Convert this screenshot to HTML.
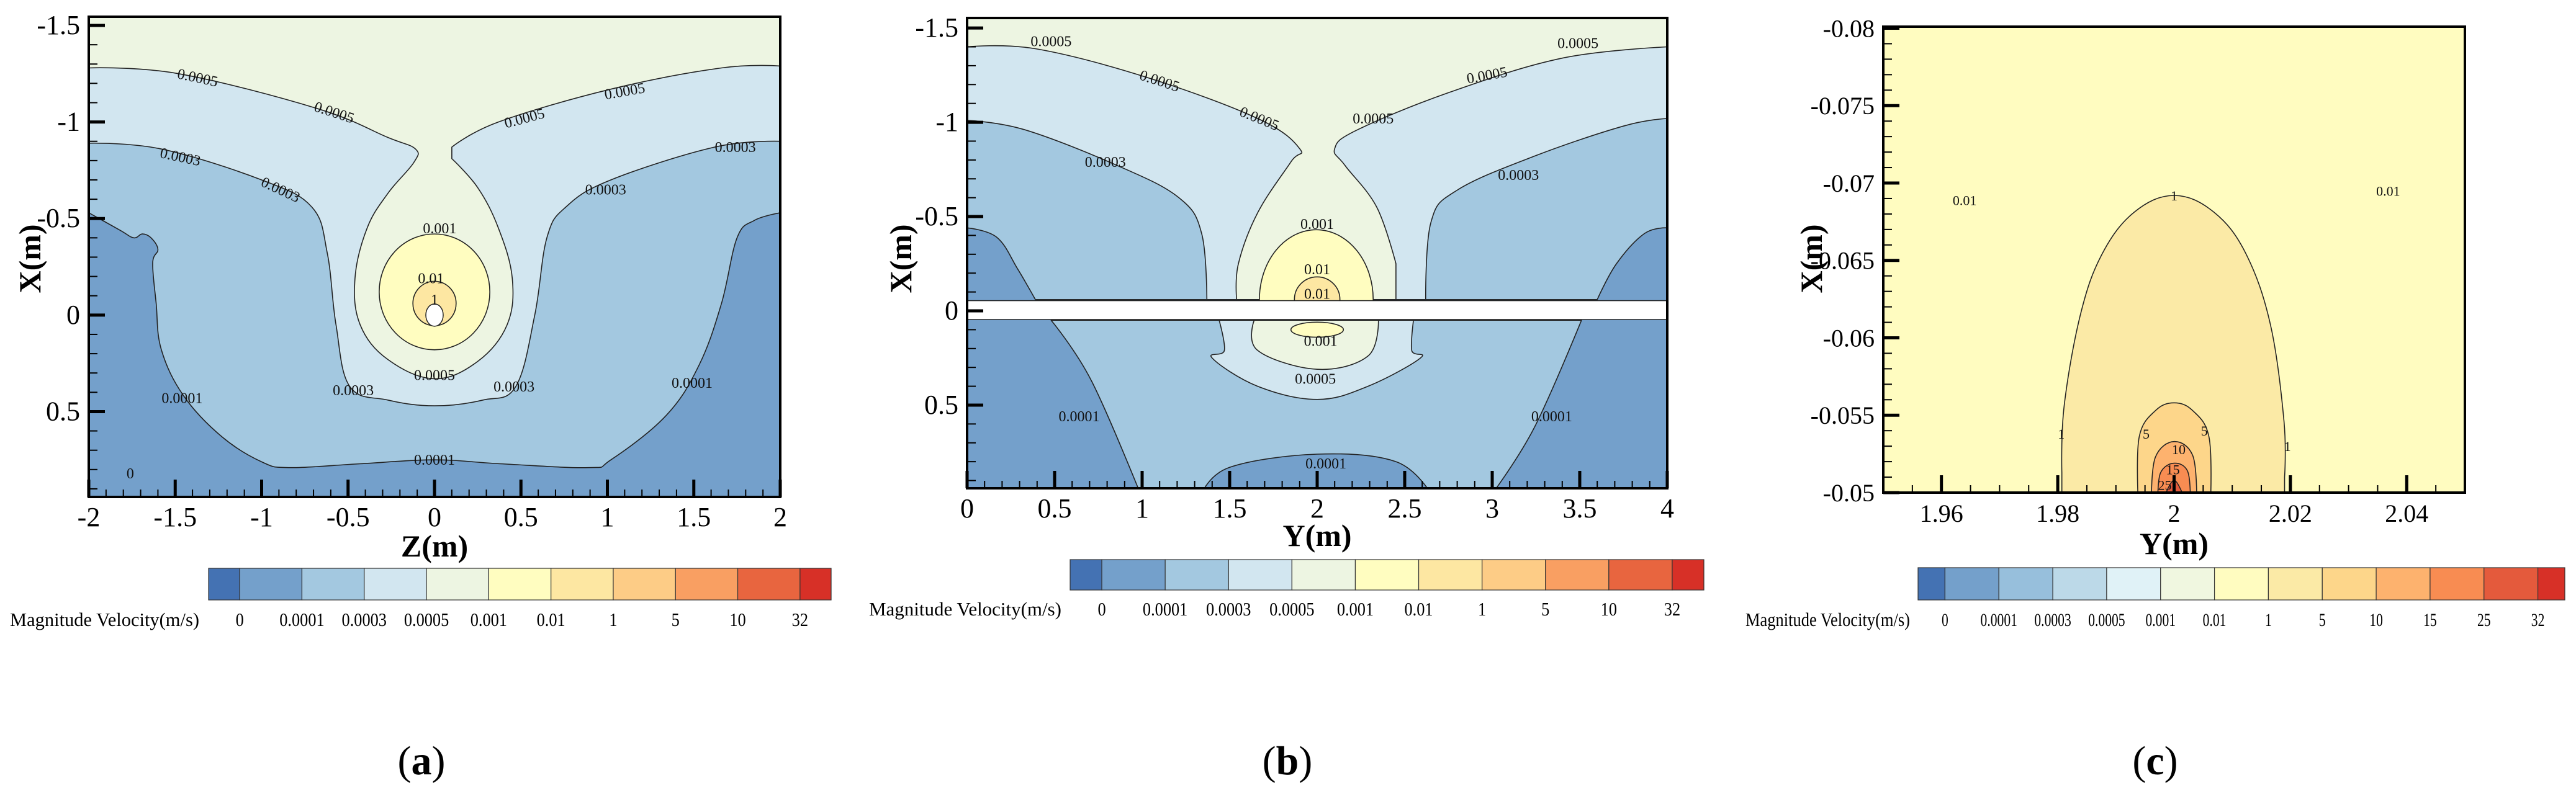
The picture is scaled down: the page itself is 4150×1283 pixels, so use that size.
<!DOCTYPE html>
<html><head><meta charset="utf-8">
<style>
html,body{margin:0;padding:0;background:#fff;}
svg{display:block;font-family:"Liberation Serif",serif;}
</style></head>
<body>
<svg id="fig" xmlns="http://www.w3.org/2000/svg" width="4150" height="1283" viewBox="0 0 4150 1283">
<rect x="0" y="0" width="4150" height="1283" fill="#fff"/>
</svg>
<script>
// ---------- colorbar data ----------
const cbLabelsAB = ["0","0.0001","0.0003","0.0005","0.001","0.01","1","5","10","32"];
const cbColorsAB = ["#4472b3","#74a0cb","#a3c8e0","#d2e6f0","#edf5e2","#fffdc0","#fde7a2","#fdcc86","#f99f62","#e8653f","#d73027"];
const cbLabelsC = ["0","0.0001","0.0003","0.0005","0.001","0.01","1","5","10","15","25","32"];
const cbColorsC = ["#4472b3","#74a0cb","#97bfdc","#bcd9e8","#e0f2f7","#f0f7e0","#fffcc0","#fbeaa6","#fdd68a","#fdb26e","#f88c52","#e45a3c","#d73027"];

// ---------- panel (a) contour data (Z, X in metres) ----------
const aL1 = [[-2,-1.55],[-2,-0.53],[-1.82,-0.44],[-1.74,-0.40],[-1.69,-0.42],[-1.64,-0.40],[-1.60,-0.34],[-1.63,-0.27],[-1.61,-0.06],[-1.58,0.18],[-1.45,0.42],[-1.23,0.63],[-1.0,0.76],[-0.84,0.79],[-0.43,0.77],[0,0.75],[0.38,0.77],[0.89,0.79],[1.02,0.75],[1.34,0.52],[1.53,0.26],[1.66,-0.06],[1.75,-0.40],[1.85,-0.49],[2,-0.53],[2,-1.55]];
const aL2 = [[-2,-1.55],[-2,-0.89],[-1.58,-0.86],[-1.0,-0.70],[-0.71,-0.56],[-0.62,-0.32],[-0.57,0.05],[-0.49,0.37],[-0.27,0.44],[0,0.47],[0.28,0.44],[0.47,0.37],[0.58,0.0],[0.65,-0.40],[0.76,-0.56],[1.02,-0.70],[1.62,-0.87],[2,-0.90],[2,-1.55]];
const aL3 = [[-2,-1.55],[-2,-1.28],[-1.48,-1.25],[-0.68,-1.07],[-0.27,-0.92],[-0.11,-0.86],[-0.12,-0.79],[-0.27,-0.63],[-0.39,-0.45],[-0.46,-0.19],[-0.43,0.05],[-0.27,0.23],[0,0.33],[0.25,0.24],[0.42,0.05],[0.45,-0.19],[0.37,-0.45],[0.25,-0.66],[0.10,-0.81],[0.10,-0.87],[0.37,-1.00],[1.02,-1.17],[1.66,-1.28],[2,-1.29],[2,-1.55]];
const aEll = [[0,-0.12,0.32,0.30],[0,-0.06,0.125,0.115]];
const aLabelText = ["0.0005","0.0005","0.0005","0.0005","0.0003","0.0003","0.0003","0.0003","0.001","0.01","1","0.0005","0.0003","0.0003","0.0001","0.0001","0.0001","0"];
const aLabelPos = [[-1.37,-1.23],[-0.58,-1.05],[0.52,-1.02],[1.1,-1.16],[-1.47,-0.82],[-0.89,-0.65],[0.99,-0.65],[1.74,-0.87],[0.03,-0.45],[-0.02,-0.19],[0,-0.08],[0,0.31],[-0.47,0.39],[0.46,0.37],[-1.46,0.43],[1.49,0.35],[0,0.75],[-1.76,0.82]];
const aLabelRot = [12,18,-15,-10,12,25,0,0,0,0,0,0,0,0,0,0,0,0];

// ---------- panel (b) contour data (Y, X) ----------
const bU1 = [[0,-1.57],[0,-0.44],[0.17,-0.39],[0.29,-0.22],[0.39,-0.06],[3.6,-0.06],[3.71,-0.25],[3.87,-0.41],[4,-0.44],[4,-1.57]];
const bU2 = [[0,-1.57],[0,-1.01],[0.33,-0.96],[0.86,-0.77],[1.21,-0.60],[1.34,-0.41],[1.37,-0.06],[2.62,-0.06],[2.65,-0.47],[2.80,-0.64],[3.24,-0.82],[3.75,-0.98],[4,-1.02],[4,-1.57]];
const bU3 = [[0,-1.57],[0,-1.40],[0.39,-1.39],[1.02,-1.24],[1.66,-1.02],[1.9,-0.86],[1.85,-0.79],[1.66,-0.52],[1.55,-0.25],[1.54,-0.06],[2.45,-0.06],[2.45,-0.25],[2.34,-0.55],[2.16,-0.77],[2.10,-0.86],[2.23,-0.96],[2.76,-1.16],[3.40,-1.34],[4,-1.40],[4,-1.57]];
const bU4 = [[1.995,-0.06,0.325,0.37]];
const bU5 = [[2.0,-0.06,0.13,0.12]];
const bD1 = [[0.48,0.05],[0.71,0.37],[0.99,0.97],[3.0,0.97],[3.24,0.62],[3.51,0.05]];
const bD0 = [[1.34,0.97],[1.5,0.83],[2.0,0.76],[2.45,0.80],[2.65,0.97]];
const bD2 = [[1.44,0.05],[1.47,0.21],[1.40,0.25],[1.66,0.40],[2.0,0.47],[2.29,0.40],[2.59,0.25],[2.54,0.21],[2.55,0.05]];
const bD3 = [[1.64,0.05],[1.66,0.21],[2.0,0.31],[2.29,0.24],[2.35,0.05]];
const bD4 = [[2.0,0.10,0.15,0.04]];
const bLabelText = ["0.0005","0.0005","0.0005","0.0005","0.0005","0.0005","0.0003","0.0003","0.001","0.01","0.01","0.001","0.0005","0.0001","0.0001","0.0001"];
const bLabelPos = [[0.48,-1.43],[1.1,-1.22],[1.67,-1.02],[2.32,-1.02],[2.97,-1.25],[3.49,-1.42],[0.79,-0.79],[3.15,-0.72],[2.0,-0.46],[2.0,-0.22],[2.0,-0.09],[2.02,0.16],[1.99,0.36],[0.64,0.56],[3.34,0.56],[2.05,0.81]];
const bLabelRot = [0,18,22,0,-10,0,0,0,0,0,0,0,0,0,0,0];

// ---------- panel (c) contour data (Y, X) ----------
const cC1 = [[1.9807,-0.0497],[1.9807,-0.0513],[1.9811,-0.0556],[1.9839,-0.0615],[1.9876,-0.0654],[1.9931,-0.0681],[2.0,-0.0692],[2.0069,-0.0681],[2.0124,-0.0654],[2.0166,-0.0608],[2.0189,-0.0546],[2.019,-0.051],[2.019,-0.0497]];
const cC5 = [[1.9938,-0.0497],[1.994,-0.0536],[1.9968,-0.0553],[2.0,-0.0558],[2.0032,-0.0553],[2.006,-0.0536],[2.0063,-0.0497]];
const cC10 = [[1.9961,-0.0497],[1.9968,-0.0523],[2.0,-0.0533],[2.0032,-0.0524],[2.0039,-0.0497]];
const cC15 = [[1.9972,-0.0497],[1.9977,-0.0513],[2.0,-0.0519],[2.0023,-0.0514],[2.0028,-0.0497]];
const cC25 = [[1.9983,-0.0497],[2.0,-0.0508],[2.0017,-0.0497]];
const cLabelText = ["0.01","0.01","1","1","1","5","5","10","15","25"];
const cLabelPos = [[1.9640,-0.0689],[2.0368,-0.0695],[2.0,-0.0692],[1.9806,-0.0538],[2.0195,-0.0530],[1.9952,-0.0538],[2.0052,-0.0540],[2.0008,-0.0528],[1.9998,-0.0515],[1.9984,-0.0505]];

// ---------- axis tick data ----------
const aXTicks = [-2,-1.5,-1,-0.5,0,0.5,1,1.5,2];
const aYTicks = [-1.5,-1,-0.5,0,0.5];
const bXTicks = [0,0.5,1,1.5,2,2.5,3,3.5,4];
const bYTicks = [-1.5,-1,-0.5,0,0.5];
const cXTicks = [1.96,1.98,2,2.02,2.04];
const cYTicks = [-0.08,-0.075,-0.07,-0.065,-0.06,-0.055,-0.05];

const NS = "http://www.w3.org/2000/svg";
const svg = document.getElementById('fig');
function mk(tag, attrs, parent){
  const e = document.createElementNS(NS, tag);
  for (const k in attrs) e.setAttribute(k, attrs[k]);
  (parent||svg).appendChild(e);
  return e;
}
function makeScale(d0,d1,p0,p1){ return v => p0 + (v-d0)/(d1-d0)*(p1-p0); }
// closed Catmull-Rom smoothing; points adjacent to axis-aligned segments are corners
function smoothPath(P){
  const n = P.length;
  const aligned = (a,b) => Math.abs(a[0]-b[0])<0.5 || Math.abs(a[1]-b[1])<0.5;
  const tan = P.map((p,i)=>{
    const a=P[(i-1+n)%n], b=P[(i+1)%n];
    if (aligned(a,p) || aligned(p,b)) return [0,0];
    return [(b[0]-a[0])*0.18,(b[1]-a[1])*0.18];
  });
  let d = 'M'+P[0][0].toFixed(1)+','+P[0][1].toFixed(1);
  for (let i=0;i<n;i++){
    const j=(i+1)%n, p1=P[i], p2=P[j];
    if (aligned(p1,p2)) { d += ' L'+p2[0].toFixed(1)+','+p2[1].toFixed(1); continue; }
    const c1=[p1[0]+tan[i][0], p1[1]+tan[i][1]];
    const c2=[p2[0]-tan[j][0], p2[1]-tan[j][1]];
    d += ' C'+c1[0].toFixed(1)+','+c1[1].toFixed(1)+' '+c2[0].toFixed(1)+','+c2[1].toFixed(1)+' '+p2[0].toFixed(1)+','+p2[1].toFixed(1);
  }
  return d+'Z';
}

function panel(cfg){
  const g = mk('g', {});
  
  
  const sx = makeScale(cfg.x0,cfg.x1,cfg.L,cfg.R);
  const sy = makeScale(cfg.y0,cfg.y1,cfg.T,cfg.B);
  const clipId = cfg.name+'-clip';
  const cp = mk('clipPath',{id:clipId},g);
  mk('rect',{x:cfg.L,y:cfg.T,width:cfg.R-cfg.L,height:cfg.B-cfg.T},cp);
  const plot = mk('g',{'clip-path':'url(#'+clipId+')'},g);
  
  
  mk('rect',{x:cfg.L,y:cfg.T,width:cfg.R-cfg.L,height:cfg.B-cfg.T,fill:cfg.bg},plot);
  const poly = (pts,fill,name) => {
    const P = pts.map(p=>[sx(p[0]),sy(p[1])]);
    const p = mk('path',{d:smoothPath(P),fill:fill,stroke:'#222','stroke-width':1.6,'stroke-linejoin':'round'},plot);
    
    
  };
  const ell = (e,fill,name) => {
    const p = mk('ellipse',{cx:sx(e[0]),cy:sy(e[1]),rx:Math.abs(sx(e[0]+e[2])-sx(e[0])),ry:Math.abs(sy(e[1]+e[3])-sy(e[1])),fill:fill,stroke:'#222','stroke-width':1.6},plot);
    
    
  };
  cfg.draw(poly,ell,sx,sy,plot);
  cfg.labelText.forEach((t,i)=>{
    const x = sx(cfg.labelPos[i][0]), y = sy(cfg.labelPos[i][1]);
    const r = cfg.labelRot ? cfg.labelRot[i] : 0;
    const tx = mk('text',{x:x,y:y+8,'font-size':cfg.lblSize||24,'text-anchor':'middle',fill:'#111',transform:'rotate('+r+' '+x+' '+y+')'},plot);
    
    
    tx.textContent = t;
  });
  const tk = mk('g',{stroke:'#000','stroke-width':2},g);
  for (let v=cfg.xMinStart; v<=cfg.x1+1e-9; v+=cfg.xMinor){
    const X = sx(v);
    mk('line',{x1:X,y1:cfg.B,x2:X,y2:cfg.B-12},tk);
  }
  for (let v=cfg.yMinStart; v<=cfg.y1+1e-9; v+=cfg.yMinor){
    const Y = sy(v);
    mk('line',{x1:cfg.L,y1:Y,x2:cfg.L+14,y2:Y},tk);
  }
  cfg.xTicks.forEach(v=>{
    const X = sx(v);
    mk('line',{x1:X,y1:cfg.B,x2:X,y2:cfg.B-28,'stroke-width':5},tk);
    const t = mk('text',{x:X,y:cfg.xLabY,'font-size':cfg.tickSize,'text-anchor':'middle',stroke:'none',fill:'#000'},g);
    
    
    t.textContent = String(v);
  });
  cfg.yTicks.forEach(v=>{
    const Y = sy(v);
    mk('line',{x1:cfg.L,y1:Y,x2:cfg.L+26,y2:Y,'stroke-width':5},tk);
    const t = mk('text',{x:cfg.L-14,y:Y+14,'font-size':cfg.tickSize,'text-anchor':'end',stroke:'none',fill:'#000'},g);
    
    
    t.textContent = String(v);
  });
  const fr = mk('rect',{x:cfg.L,y:cfg.T,width:cfg.R-cfg.L,height:cfg.B-cfg.T,fill:'none',stroke:'#000','stroke-width':4},g);
  
  
  const xt = mk('text',{x:(cfg.L+cfg.R)/2,y:cfg.xTitleY,'font-size':50,'font-weight':'bold','text-anchor':'middle'},g);
  
  
  xt.textContent = cfg.xTitle;
  const yt = mk('text',{x:cfg.yTitleX,y:417,'font-size':50,'font-weight':'bold','text-anchor':'middle',transform:'rotate(-90 '+cfg.yTitleX+' 417)',dy:17},g);
  
  
  yt.textContent = 'X(m)';
  const cb = mk('g',{},g);
  
  
  const n = cfg.cbColors.length, step = (cfg.cbR-cfg.cbL)/(n-1);
  let x = cfg.cbL;
  cfg.cbColors.forEach((c,i)=>{
    const w = (i===0||i===n-1) ? step/2 : step;
    const r = mk('rect',{x:x,y:cfg.cbT,width:w,height:cfg.cbH,fill:c,stroke:'#333','stroke-width':1.2},cb);
    
    
    x += w;
  });
  cfg.cbLabels.forEach((l,i)=>{
    const cx = cfg.cbL+step/2+i*step;
    const t = mk('text',{x:cx,y:cfg.cbLabY,'font-size':cfg.cbFont||31,'text-anchor':'middle',transform:'translate('+cx+' 0) scale('+(cfg.cbSx||1)+' 1) translate('+(-cx)+' 0)'},cb);
    
    
    t.textContent = l;
  });
  const ct = mk('text',{x:cfg.cbTitleX,y:cfg.cbLabY,'font-size':31,'text-anchor':'start','lengthAdjust':'spacingAndGlyphs'},cb);
  
  
  ct.setAttribute('textLength', cfg.cbTitleW);
  ct.textContent = 'Magnitude Velocity(m/s)';
  const cap = mk('text',{x:cfg.capX,y:1248,'font-size':66,'text-anchor':'middle'},g);
  
  
  cap.innerHTML = '(<tspan font-weight="bold">'+cfg.cap+'</tspan>)';
}

panel({name:'panel-a',L:143,R:1257,T:27,B:801,x0:-2,x1:2,y0:-1.545,y1:0.942,bg:'#edf5e2',
  xTicks:aXTicks,yTicks:aYTicks,xMinor:0.1,yMinor:0.1,xMinStart:-2,yMinStart:-1.5,tickSize:44,xLabY:848,xTitleY:897,xTitle:'Z(m)',yTitleX:48,
  labelText:aLabelText,labelPos:aLabelPos,labelRot:aLabelRot,
  cbColors:cbColorsAB,cbLabels:cbLabelsAB,cbL:336,cbR:1339,cbT:916,cbH:51,cbLabY:1009,cbTitleX:16,cbTitleW:305,capX:679,cap:'a',cbSx:0.85,
  draw:(poly,ell,sx,sy,plot)=>{
    mk('rect',{x:143,y:27,width:1114,height:774,fill:'#74a0cb'},plot);
    poly(aL1,'#a3c8e0','contour-0.0001');
    poly(aL2,'#d2e6f0','contour-0.0003');
    poly(aL3,'#edf5e2','contour-0.0005');
    ell(aEll[0],'#fffdc0','contour-0.001');
    ell(aEll[1],'#fde7a2','contour-0.01');
    const c = mk('ellipse',{cx:sx(0),cy:sy(0),rx:14,ry:18,fill:'#fff',stroke:'#222','stroke-width':1.5},plot);
    
    
  }});

panel({name:'panel-b',L:1558,R:2686,T:29,B:787,x0:0,x1:4,y0:-1.553,y1:0.941,bg:'#edf5e2',
  xTicks:bXTicks,yTicks:bYTicks,xMinor:0.1,yMinor:0.1,xMinStart:0,yMinStart:-1.5,tickSize:44,xLabY:834,xTitleY:880,xTitle:'Y(m)',yTitleX:1451,
  labelText:bLabelText,labelPos:bLabelPos,labelRot:bLabelRot,
  cbColors:cbColorsAB,cbLabels:cbLabelsAB,cbL:1724,cbR:2745,cbT:902,cbH:49,cbLabY:992,cbTitleX:1400,cbTitleW:310,capX:2074,cap:'b',cbSx:0.85,
  draw:(poly,ell,sx,sy,plot)=>{
    mk('rect',{x:1558,y:29,width:1128,height:758,fill:'#74a0cb'},plot);
    poly(bU1,'#a3c8e0','contour-0.0001-upper');
    poly(bU2,'#d2e6f0','contour-0.0003-upper');
    poly(bU3,'#edf5e2','contour-0.0005-upper');
    ell(bU4[0],'#fffdc0','contour-0.001-upper');
    ell(bU5[0],'#fde7a2','contour-0.01-upper');
    poly(bD1,'#a3c8e0','contour-0.0001-lower');
    poly(bD0,'#74a0cb','contour-0-lower');
    poly(bD2,'#d2e6f0','contour-0.0003-lower');
    poly(bD3,'#edf5e2','contour-0.0005-lower');
    ell(bD4[0],'#fffdc0','contour-0.001-lower');
    const s = mk('rect',{x:1558,y:sy(-0.054),width:1128,height:sy(0.046)-sy(-0.054),fill:'#fff',stroke:'#222','stroke-width':1.5},plot);
    
    
  }});

panel({name:'panel-c',L:3034,R:3971,T:43,B:794,x0:1.95,x1:2.05,y0:-0.0801,y1:-0.05,bg:'#fffcc0',
  xTicks:cXTicks,yTicks:cYTicks,xMinor:0.005,yMinor:0.001,xMinStart:1.955,yMinStart:-0.08,tickSize:40,xLabY:841,xTitleY:893,xTitle:'Y(m)',yTitleX:2918,lblSize:22,
  labelText:cLabelText,labelPos:cLabelPos,
  cbColors:cbColorsC,cbLabels:cbLabelsC,cbL:3090,cbR:4132,cbT:915,cbH:52,cbLabY:1009,cbTitleX:2812,cbTitleW:265,capX:3472,cap:'c',cbFont:30,cbSx:0.72,
  draw:(poly,ell,sx,sy,plot)=>{
    poly(cC1,'#fbeaa6','contour-1');
    poly(cC5,'#fdd68a','contour-5');
    poly(cC10,'#fdb26e','contour-10');
    poly(cC15,'#f88c52','contour-15');
    poly(cC25,'#e45a3c','contour-25');
  }});
</script>
</body></html>
